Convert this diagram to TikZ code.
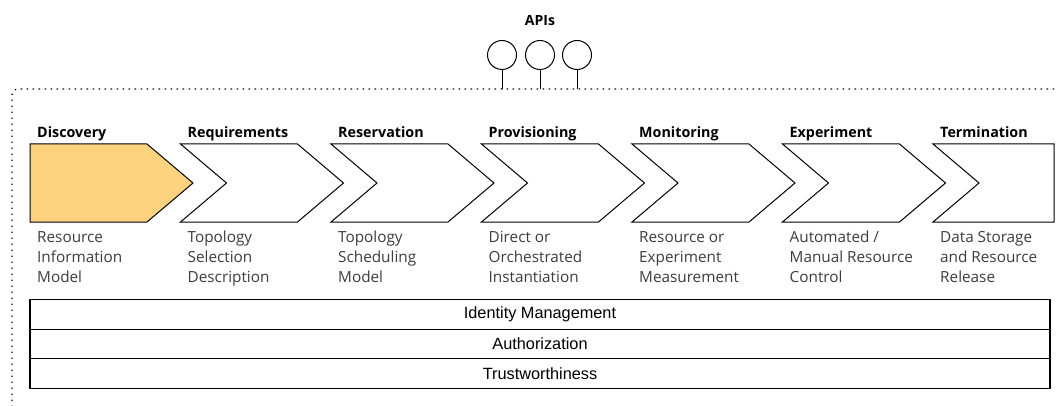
\documentclass[tikz,border=0pt]{standalone}
\usepackage{fontspec}
\setmainfont{Open Sans}
\newfontfamily\boxfont{Liberation Sans}
\usetikzlibrary{positioning}
\definecolor{stagefill}{RGB}{252,210,127}
\definecolor{desctext}{RGB}{60,60,60}
\tikzset{
  stagelabel/.style={font=\bfseries\fontsize{14.3}{16}\selectfont, anchor=base west, inner sep=0pt},
  stagedesc/.style={font=\fontsize{15.3}{20}\selectfont, text=desctext, align=left, anchor=north west, inner sep=0pt},
  layer/.style={draw, line width=1.1pt, minimum width=1020pt, minimum height=29.5pt, inner sep=0pt, outer sep=0pt, font=\boxfont\fontsize{16.3}{18}\selectfont},
  api/.style={draw, circle, line width=1pt, minimum size=29pt, inner sep=0pt},
  frame/.style={line width=1.3pt, dash pattern=on 1.3pt off 4.7pt, rounded corners=6pt}
}
\begin{document}
\begin{tikzpicture}[x=1pt, y=-1pt, line join=miter]
  \useasboundingbox (0,0) rectangle (1056,406);
  % outer dotted frame
  \draw[frame] (1060,89) -- (12,89) -- (12,412);
  % APIs
  \node[font=\bfseries\fontsize{14}{16}\selectfont] (apis) at (540,21) {APIs};
  \foreach \x [count=\i] in {502,540,577} {
    \node[api] (api\i) at (\x,55) {};
    \coordinate (apifoot\i) at (\x,89);
    \draw[line width=1pt] (api\i.south) -- (apifoot\i);
  }
  % stages
  \foreach \name/\desc/\col/\notch/\tip [count=\i from 0] in {
      Discovery/{Resource\\Information\\Model}/stagefill/0/46,
      Requirements/{Topology\\Selection\\Description}/white/46/46,
      Reservation/{Topology\\Scheduling\\Model}/white/46/46,
      Provisioning/{Direct or\\Orchestrated\\Instantiation}/white/46/46,
      Monitoring/{Resource or\\Experiment\\Measurement}/white/46/46,
      Experiment/{Automated /\\Manual Resource\\Control}/white/46/46,
      Termination/{Data Storage\\and Resource\\Release}/white/46/0} {
    \pgfmathsetmacro\l{30+150.5*\i}
    \pgfmathsetmacro\r{ifthenelse(\i==6,1054,\l+117)}
    \draw[line width=1pt, fill=\col] (\l,144) -- (\r,144) -- (\r+\tip,183)
      -- (\r,222) -- (\l,222) -- (\l+\notch,183) -- cycle;
    \node[stagelabel] (stage\i) at (\l+7,138) {\name};
    \node[stagedesc] (desc\i) at (\l+7,231) {\desc};
  }
  % security layers
  \node[layer] (idm) at (540,314.5) {Identity Management};
  \node[layer, below=0pt of idm] (authz) {Authorization};
  \node[layer, below=0pt of authz] (trust) {Trustworthiness};
\end{tikzpicture}
\end{document}
